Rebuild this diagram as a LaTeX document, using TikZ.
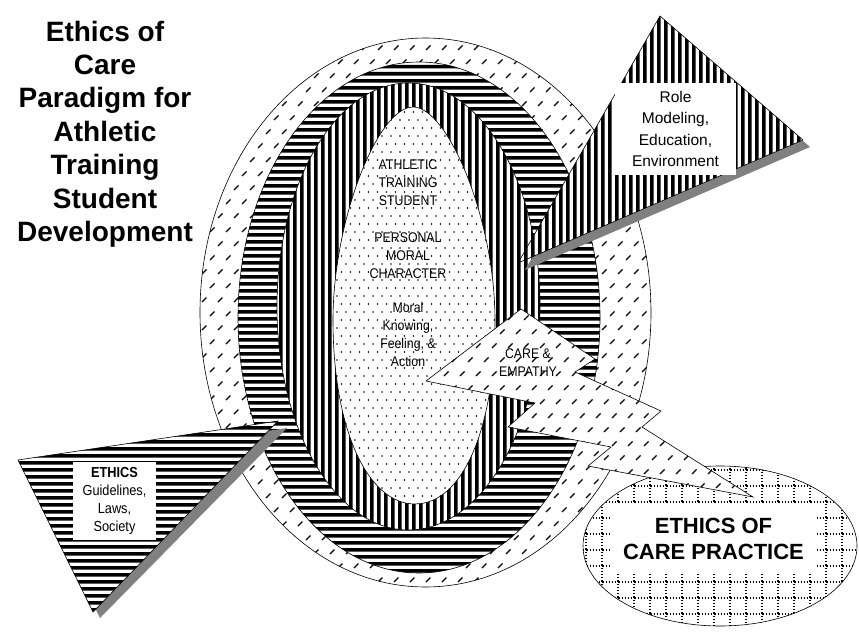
\documentclass[tikz,border=0pt]{standalone}
\usepackage{fontspec}
\setmainfont{Liberation Sans}
\newfontfamily\narrowfont[FakeStretch=0.88]{Liberation Sans}
\usepackage{tikz}
\definecolor{ShadowGrey}{RGB}{128,128,128}

% outlines of the filled shapes
\newcommand{\outerpath}{(425.5,312.5) ellipse [x radius=225.5pt, y radius=274.5pt]}
\newcommand{\hringpath}{(419,317.5) ellipse [x radius=181pt, y radius=255.5pt]}
\newcommand{\vringpath}{(408.5,306.5) ellipse [x radius=131.5pt, y radius=223.5pt]}
\newcommand{\corepath}{(413,107) .. controls (448,107) and (495,220) .. (495,320)
  .. controls (495,430) and (462,504) .. (415,504) .. controls (368,504) and (333,430) .. (333,320)
  .. controls (333,220) and (378,107) .. (413,107) -- cycle}
\newcommand{\practicepath}{(720,546) ellipse [x radius=137pt, y radius=80pt]}
\newcommand{\boltpath}{(521,309) -- (595,359) -- (575,372) -- (661,411) -- (642,427)
  -- (753,497) -- (588,466) -- (611,447) -- (508,427) -- (535,403) -- (426,381) -- cycle}
\newcommand{\rolepath}{(660,16) -- (803,140) -- (518,263) -- cycle}
\newcommand{\ethicspath}{(18,460) -- (278,421) -- (93,612) -- cycle}

\begin{document}
\begin{tikzpicture}[
  x=1pt, y=-1pt,
  rim/.style={draw, line width=0.6pt},
  blank/.style={fill=white},
  slashes/.style={line width=1.1pt},
  shadowshape/.style={fill=ShadowGrey, draw=none},
  labelbox/.style={fill=white, inner sep=0pt, align=center},
  coretext/.style={align=center, inner sep=0pt, font=\narrowfont\fontsize{14}{18}\selectfont}
]
\useasboundingbox (0,0) rectangle (859,634);

% title
\node[align=center, font=\bfseries\fontsize{28}{33.4}\selectfont] (title) at (105,134)
  {Ethics of\\Care\\Paradigm for\\Athletic\\Training\\Student\\Development};

% outer ring, short slashes
\begin{scope}
  \clip \outerpath;
  \fill[blank] (190,30) rectangle (660,595);
  \draw[slashes] foreach \x in {194,210,...,660} { foreach \y in {36,64,...,610}
    { (\x,\y) -- ++(4.5,-4.5) (\x+8,\y+14) -- ++(4.5,-4.5) } };
\end{scope}
\draw[rim] \outerpath;

% horizontal bars
\begin{scope}
  \clip \hringpath;
  \fill[blank] (230,55) rectangle (610,580);
  \fill foreach \y in {58,65,...,578} { (230,\y) rectangle (610,\y+3.5) };
\end{scope}
\draw[rim] \hringpath;

% vertical bars
\begin{scope}
  \clip \vringpath;
  \fill[blank] (270,75) rectangle (545,535);
  \fill foreach \x in {272,279,...,545} { (\x,75) rectangle (\x+3.5,535) };
\end{scope}
\draw[rim] \vringpath;

% dotted core
\begin{scope}
  \clip \corepath;
  \fill[blank] (325,100) rectangle (500,510);
  \fill foreach \x in {328,337,...,500} { foreach \y in {104,120,...,510}
    { (\x,\y) circle [radius=0.95pt] (\x+4.5,\y+8) circle [radius=0.95pt] } };
\end{scope}
\draw[rim] \corepath;

\node[coretext] (student) at (408,183) {ATHLETIC\\TRAINING\\STUDENT};
\node[coretext] (moral) at (408,256) {PERSONAL\\MORAL\\CHARACTER};
\node[coretext] (knowing) at (408,334) {Moral\\Knowing,\\Feeling, \&\\Action};

% practice ellipse, dotted grid
\begin{scope}
  \clip \practicepath;
  \fill[blank] (580,462) rectangle (860,630);
  \draw[line width=1.2pt, dash pattern=on 1.2pt off 2pt]
    foreach \y in {470,486,...,630} { (580,\y) -- (860,\y) }
    foreach \x in {586,602,...,860} { (\x,462) -- (\x,630) };
\end{scope}
\draw[rim] \practicepath;

% care and empathy bolt
\begin{scope}
  \clip \boltpath;
  \fill[blank] (420,300) rectangle (760,500);
  \draw[slashes] foreach \x in {420,436,...,760} { foreach \y in {306,334,...,520}
    { (\x,\y) -- ++(4.5,-4.5) (\x+8,\y+14) -- ++(4.5,-4.5) } };
\end{scope}
\draw[rim] \boltpath;
\node[align=center, inner sep=0pt, font=\narrowfont\fontsize{14}{18}\selectfont] (empathy) at (528,363) {CARE \&\\EMPATHY};

% role modeling triangle
\fill[shadowshape] (667,23) -- (810,147) -- (525,270) -- cycle;
\begin{scope}
  \clip \rolepath;
  \fill[blank] (515,10) rectangle (805,265);
  \fill foreach \x in {517,524,...,805} { (\x,10) rectangle (\x+3.5,265) };
\end{scope}
\draw[rim] \rolepath;
\node[labelbox, minimum width=121pt, minimum height=92pt, font=\fontsize{15.5}{21.3}\selectfont] (role) at (675.5,129)
  {Role\\Modeling,\\Education,\\Environment};

% ethics triangle
\fill[shadowshape] (26,467) -- (287,428) -- (100,618) -- cycle;
\begin{scope}
  \clip \ethicspath;
  \fill[blank] (15,418) rectangle (280,615);
  \fill foreach \y in {419,426,...,615} { (15,\y) rectangle (280,\y+3.5) };
\end{scope}
\draw[rim] \ethicspath;
\node[labelbox, minimum width=83pt, minimum height=78pt, font=\narrowfont\fontsize{14.5}{18.2}\selectfont] (ethics) at (114.5,501)
  {\textbf{ETHICS}\\Guidelines,\\Laws,\\Society};

\node[labelbox, minimum width=207pt, minimum height=70pt, font=\bfseries\fontsize{22}{26}\selectfont] (practicetext) at (713.5,539)
  {ETHICS OF\\CARE PRACTICE};
\end{tikzpicture}
\end{document}
